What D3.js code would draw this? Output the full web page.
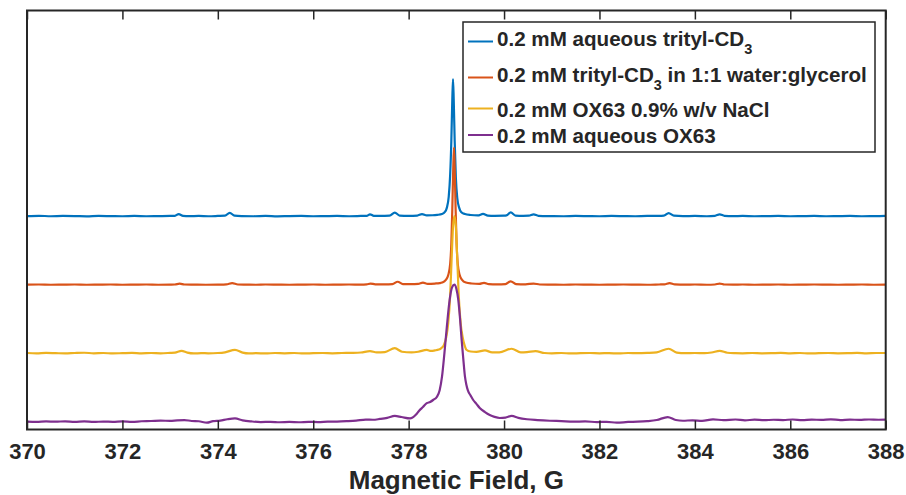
<!DOCTYPE html>
<html>
<head>
<meta charset="utf-8">
<script src="https://cdn.jsdelivr.net/npm/d3@7"></script>
<style>
  body { margin: 0; background: #fff; }
  svg { display: block; }
  text { font-family: "Liberation Sans", Arial, Helvetica, sans-serif; font-weight: bold; fill: #262626; }
</style>
</head>
<body>
<svg id="chart" width="906" height="495"></svg>
<script>
// Normalised EPR absorption spectra, [field (G), intensity]; each peak scaled to 1.
const tritylAqueous = [
  [370.0,0.000],[370.25,0.002],[370.5,-0.001],[370.75,0.001],[371.0,0.000],[371.25,-0.002],[371.5,0.001],[371.75,0.000],
  [372.0,-0.001],[372.25,0.001],[372.5,-0.001],[372.75,0.000],[373.0,0.001],[373.1,0.002],[373.18,0.015],[373.27,0.002],
  [373.4,0.000],[373.6,0.001],[373.8,-0.001],[374.0,0.001],[374.15,0.003],[374.25,0.024],[374.35,0.003],[374.5,0.000],
  [374.75,-0.001],[375.0,0.001],[375.25,-0.002],[375.5,0.000],[375.75,0.001],[376.0,-0.001],[376.25,0.000],[376.5,0.001],
  [376.75,-0.001],[377.0,0.001],[377.12,0.002],[377.19,0.013],[377.27,0.002],[377.4,0.001],[377.6,0.003],[377.71,0.026],
  [377.81,0.004],[378.0,0.002],[378.18,0.004],[378.28,0.015],[378.38,0.005],[378.5,0.006],[378.6,0.009],[378.70,0.015],
  [378.76,0.03],[378.80,0.06],[378.84,0.14],[378.87,0.30],[378.895,0.55],[378.915,0.85],[378.93,1.0],[378.945,0.85],
  [378.965,0.55],[378.99,0.28],[379.02,0.13],[379.06,0.06],[379.10,0.03],[379.18,0.015],[379.3,0.008],[379.45,0.005],
  [379.56,0.016],[379.66,0.004],[379.8,0.002],[380.0,0.003],[380.05,0.005],[380.14,0.027],[380.24,0.004],[380.4,0.002],
  [380.52,0.003],[380.62,0.013],[380.72,0.002],[381.0,0.000],[381.25,-0.001],[381.5,0.001],[381.75,0.000],[382.0,-0.001],
  [382.25,0.001],[382.5,0.000],[382.75,-0.001],[383.0,0.001],[383.25,0.001],[383.35,0.003],[383.45,0.022],[383.56,0.003],
  [383.75,0.000],[384.0,0.001],[384.25,-0.001],[384.42,0.002],[384.52,0.013],[384.62,0.002],[384.8,0.000],[385.0,0.001],
  [385.25,-0.001],[385.5,0.000],[385.75,0.001],[386.0,-0.001],[386.25,0.000],[386.5,0.001],[386.75,-0.001],[387.0,0.000],
  [387.25,0.001],[387.5,-0.001],[387.75,0.000],[388.0,0.001]
];

const tritylGlycerol = [
  [370.0,0.000],[370.25,0.001],[370.5,-0.001],[370.75,0.000],[371.0,0.001],[371.25,-0.001],[371.5,0.000],[371.75,0.001],
  [372.0,-0.001],[372.25,0.000],[372.5,0.001],[372.75,-0.001],[373.0,0.000],[373.1,0.001],[373.2,0.007],[373.3,0.001],
  [373.5,0.000],[373.75,-0.001],[374.0,0.000],[374.18,0.002],[374.3,0.011],[374.42,0.001],[374.6,0.000],[374.8,-0.001],
  [375.0,0.001],[375.25,0.000],[375.5,-0.001],[375.75,0.000],[376.0,0.001],[376.25,-0.001],[376.5,0.000],[376.75,0.001],
  [377.0,0.000],[377.12,0.002],[377.2,0.008],[377.3,0.002],[377.5,0.002],[377.66,0.004],[377.77,0.021],[377.88,0.004],
  [378.05,0.003],[378.2,0.005],[378.3,0.015],[378.4,0.006],[378.55,0.008],[378.65,0.011],[378.70,0.015],[378.78,0.035],
  [378.83,0.07],[378.87,0.15],[378.895,0.30],[378.915,0.55],[378.935,0.85],[378.95,1.0],[378.965,0.85],[378.985,0.55],
  [379.005,0.30],[379.03,0.15],[379.07,0.07],[379.12,0.035],[379.2,0.015],[379.32,0.008],[379.48,0.005],[379.58,0.013],
  [379.68,0.004],[379.85,0.002],[380.03,0.004],[380.14,0.024],[380.25,0.004],[380.45,0.002],[380.62,0.008],[380.75,0.001],
  [381.0,0.000],[381.25,-0.001],[381.5,0.001],[381.75,0.000],[382.0,-0.001],[382.25,0.000],[382.5,0.001],[382.75,0.000],
  [383.0,-0.001],[383.25,0.001],[383.36,0.002],[383.47,0.011],[383.58,0.002],[383.8,0.000],[384.0,0.001],[384.25,-0.001],
  [384.42,0.001],[384.52,0.008],[384.62,0.001],[384.8,0.000],[385.0,0.001],[385.25,-0.001],[385.5,0.000],[385.75,0.001],
  [386.0,-0.001],[386.25,0.000],[386.5,0.001],[386.75,0.000],[387.0,-0.001],[387.25,0.000],[387.5,0.001],[387.75,-0.001],
  [388.0,0.000]
];

const ox63Saline = [
  [370.0,0.001],[370.2,-0.002],[370.4,0.002],[370.6,0.000],[370.8,-0.002],[371.0,0.001],[371.2,0.003],[371.4,-0.001],
  [371.6,0.001],[371.8,-0.002],[372.0,0.000],[372.2,0.002],[372.4,-0.001],[372.6,0.001],[372.8,-0.001],[373.0,0.002],
  [373.1,0.004],[373.24,0.017],[373.36,0.004],[373.5,-0.002],[373.65,0.000],[373.8,-0.001],[374.0,0.001],[374.15,0.006],
  [374.36,0.024],[374.52,0.004],[374.65,-0.002],[374.8,0.000],[375.0,-0.002],[375.2,0.001],[375.4,-0.001],[375.6,0.001],
  [375.8,-0.002],[376.0,0.000],[376.2,0.001],[376.4,-0.001],[376.6,0.001],[376.8,0.002],[377.0,0.005],[377.19,0.015],
  [377.33,0.005],[377.5,0.008],[377.71,0.036],[377.86,0.010],[378.06,0.005],[378.2,0.010],[378.38,0.024],[378.47,0.016],
  [378.55,0.020],[378.63,0.026],[378.68,0.035],[378.74,0.06],[378.79,0.12],[378.83,0.22],[378.87,0.42],[378.90,0.68],
  [378.93,0.92],[378.96,1.0],[378.99,0.92],[379.02,0.68],[379.05,0.42],[379.09,0.22],[379.13,0.12],[379.17,0.06],
  [379.21,0.025],[379.3,0.012],[379.42,0.010],[379.6,0.020],[379.75,0.006],[379.9,0.006],[380.16,0.032],[380.35,0.006],
  [380.48,0.008],[380.66,0.015],[380.85,0.001],[381.0,-0.001],[381.2,0.001],[381.4,-0.002],[381.6,0.000],[381.8,0.001],
  [382.0,-0.001],[382.2,0.000],[382.4,-0.002],[382.6,0.001],[382.8,0.000],[383.0,0.002],[383.2,0.006],[383.45,0.032],
  [383.62,0.004],[383.8,0.000],[384.0,0.001],[384.2,0.000],[384.35,0.005],[384.52,0.017],[384.68,0.003],[384.85,0.000],
  [385.0,-0.001],[385.2,0.001],[385.4,-0.001],[385.6,0.000],[385.8,0.002],[386.0,-0.001],[386.2,0.001],[386.4,-0.002],
  [386.6,0.000],[386.8,0.001],[387.0,-0.001],[387.2,0.000],[387.4,0.002],[387.6,-0.001],[387.8,0.001],[388.0,0.001]
];

const ox63Aqueous = [
  [370.0,0.001],[370.2,-0.002],[370.4,0.002],[370.6,0.000],[370.8,0.003],[371.0,-0.001],[371.2,0.002],[371.4,-0.002],
  [371.6,0.001],[371.8,-0.001],[372.0,0.002],[372.2,-0.001],[372.4,0.003],[372.6,0.005],[372.8,0.008],[373.0,0.006],
  [373.15,0.010],[373.3,0.012],[373.45,0.005],[373.6,0.003],[373.77,-0.007],[373.9,0.004],[374.05,0.008],[374.2,0.018],
  [374.36,0.024],[374.52,0.010],[374.7,0.002],[374.9,-0.003],[375.1,-0.001],[375.3,-0.004],[375.5,-0.002],[375.7,-0.004],
  [375.9,-0.001],[376.1,-0.003],[376.3,0.000],[376.5,0.001],[376.7,0.004],[376.9,0.008],[377.1,0.015],[377.25,0.014],
  [377.4,0.020],[377.55,0.028],[377.71,0.042],[377.85,0.034],[378.03,0.024],[378.15,0.05],[378.22,0.08],[378.3,0.107],
  [378.38,0.135],[378.45,0.144],[378.52,0.16],[378.59,0.18],[378.65,0.23],[378.7,0.33],[378.75,0.5],[378.8,0.69],
  [378.86,0.89],[378.91,0.98],[378.96,1.0],[379.0,0.97],[379.04,0.89],[379.08,0.74],[379.11,0.60],[379.15,0.44],
  [379.18,0.33],[379.21,0.27],[379.24,0.23],[379.3,0.19],[379.35,0.16],[379.42,0.13],[379.49,0.10],[379.6,0.07],
  [379.7,0.049],[379.8,0.035],[379.91,0.027],[380.03,0.030],[380.16,0.042],[380.3,0.028],[380.48,0.018],[380.7,0.012],
  [380.96,0.007],[381.2,0.004],[381.45,0.000],[381.7,0.002],[381.95,-0.003],[382.15,-0.001],[382.36,-0.007],[382.6,-0.002],
  [382.8,0.000],[383.0,0.004],[383.2,0.012],[383.43,0.034],[383.6,0.012],[383.75,0.007],[383.95,0.010],[384.15,0.006],
  [384.38,0.017],[384.6,0.011],[384.85,0.016],[385.05,0.010],[385.25,0.015],[385.45,0.011],[385.65,0.014],[385.85,0.012],
  [386.05,0.016],[386.25,0.011],[386.45,0.015],[386.65,0.013],[386.85,0.017],[387.05,0.012],[387.25,0.015],[387.45,0.013],
  [387.65,0.016],[387.85,0.014],[388.0,0.015]
];

// Vertical stacking offsets applied to each trace
const offsets = [1.5, 1.0, 0.5, 0.0];
const seriesData = [tritylAqueous, tritylGlycerol, ox63Saline, ox63Aqueous];
const colors = ["#0072BD", "#D95319", "#EDB120", "#7E2F8E"];
// Legend labels: [main text, subscript, trailing text]
const labels = [
  ["0.2 mM aqueous trityl-CD", "3", ""],
  ["0.2 mM trityl-CD", "3", " in 1:1 water:glycerol"],
  ["0.2 mM OX63 0.9% w/v NaCl", "", ""],
  ["0.2 mM aqueous OX63", "", ""]
];
const xTicks = [370, 372, 374, 376, 378, 380, 382, 384, 386, 388];
const xLabel = "Magnetic Field, G";

const svg = d3.select("#chart");
const plotLeft = 27, plotRight = 885.7, plotTop = 10.5, plotBottom = 429.5;

const x = d3.scaleLinear().domain([370, 388]).range([plotLeft, plotRight]);
const y = d3.scaleLinear().domain([-0.057, 3.0]).range([plotBottom, plotTop]);

svg.append("defs").append("clipPath").attr("id", "plotClip")
  .append("rect").attr("x", plotLeft).attr("y", plotTop)
  .attr("width", plotRight - plotLeft).attr("height", plotBottom - plotTop);

// Spectra
const plot = svg.append("g").attr("clip-path", "url(#plotClip)");
seriesData.forEach((data, i) => {
  const line = d3.line()
    .x(d => x(d[0]))
    .y(d => y(d[1] + offsets[i]))
    .curve(d3.curveMonotoneX);
  plot.append("path")
    .datum(data)
    .attr("d", line)
    .attr("fill", "none")
    .attr("stroke", colors[i])
    .attr("stroke-width", 2.2)
    .attr("stroke-linejoin", "round");
});

// Axes: labelled ticks along the bottom, bare ticks along the top
const bottomAxis = d3.axisBottom(x).tickValues(xTicks).tickFormat(d3.format("d"))
  .tickSizeInner(-9).tickSizeOuter(0).tickPadding(14);
const gb = svg.append("g").attr("transform", `translate(0,${plotBottom})`).call(bottomAxis);
gb.select(".domain").remove();
gb.attr("font-family", null).attr("font-size", null);
gb.selectAll(".tick line").attr("stroke", "#262626").attr("stroke-width", 1.5);
gb.selectAll(".tick text").attr("font-size", 22).attr("fill", "#262626");

const topAxis = d3.axisTop(x).tickValues(xTicks).tickFormat("")
  .tickSizeInner(-9).tickSizeOuter(0);
const gt = svg.append("g").attr("transform", `translate(0,${plotTop})`).call(topAxis);
gt.select(".domain").remove();
gt.selectAll(".tick line").attr("stroke", "#262626").attr("stroke-width", 1.5);

// Axes box
svg.append("rect")
  .attr("x", plotLeft).attr("y", plotTop)
  .attr("width", plotRight - plotLeft).attr("height", plotBottom - plotTop)
  .attr("fill", "none").attr("stroke", "#262626").attr("stroke-width", 2);

svg.append("text")
  .attr("x", (plotLeft + plotRight) / 2).attr("y", 489)
  .attr("text-anchor", "middle").attr("font-size", 26)
  .text(xLabel);

// Legend
const legend = svg.append("g");
legend.append("rect")
  .attr("x", 463).attr("y", 22).attr("width", 412).attr("height", 130)
  .attr("fill", "#fff").attr("stroke", "#262626").attr("stroke-width", 1.5);
const rowLineY = [41.5, 77.5, 108.5, 135];
const rowBase = [45.5, 82, 117, 142.5];
labels.forEach((lab, i) => {
  legend.append("line")
    .attr("x1", 468).attr("x2", 493).attr("y1", rowLineY[i]).attr("y2", rowLineY[i])
    .attr("stroke", colors[i]).attr("stroke-width", 2);
  const t = legend.append("text").attr("x", 497).attr("y", rowBase[i]).attr("font-size", 20.6);
  t.append("tspan").text(lab[0]);
  if (lab[1]) t.append("tspan").attr("dy", 8).attr("font-size", 14.5).text(lab[1]);
  if (lab[2]) t.append("tspan").attr("dy", -8).text(lab[2]);
});
</script>
</body>
</html>
